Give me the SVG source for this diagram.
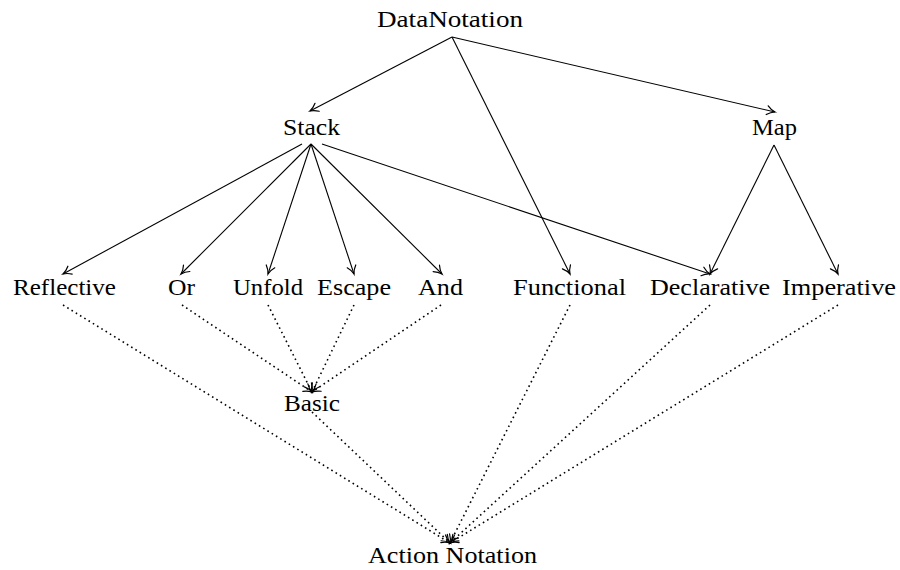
<svg xmlns="http://www.w3.org/2000/svg" width="900" height="570" viewBox="0 0 900 570">
<style>
text{font-family:"Liberation Serif","Times New Roman",serif;font-size:24px;fill:#000;text-anchor:middle}
.e{stroke:#000;stroke-width:1.1;fill:none;marker-end:url(#to)}
.d{stroke:#000;stroke-width:1.6;fill:none;stroke-dasharray:1.6 3.4;marker-end:url(#to)}
</style>
<defs>
<marker id="to" markerUnits="userSpaceOnUse" viewBox="-9 -6 11 12" refX="0" refY="0" markerWidth="11" markerHeight="12" orient="auto" overflow="visible">
<path d="M-8,-4.5 C-5,-1.8 -1.5,-0.4 0,0 C-1.5,0.4 -5,1.8 -8,4.5" fill="none" stroke="#000" stroke-width="1.2" stroke-dasharray="none" stroke-linecap="round"/>
</marker>
</defs>
<rect width="900" height="570" fill="#fff"/>
<g id="connectors">
<line class="e" x1="452" y1="37" x2="310" y2="111"/>
<line class="e" x1="452" y1="37" x2="570" y2="274"/>
<line class="e" x1="452" y1="37" x2="775" y2="112"/>
<line class="e" x1="302" y1="144" x2="63" y2="274"/>
<line class="e" x1="311" y1="144" x2="181" y2="274"/>
<line class="e" x1="311" y1="144" x2="268" y2="274"/>
<line class="e" x1="311" y1="144" x2="354" y2="274"/>
<line class="e" x1="311" y1="144" x2="442" y2="274"/>
<line class="e" x1="322" y1="144" x2="710" y2="274"/>
<line class="e" x1="774" y1="145" x2="710" y2="274"/>
<line class="e" x1="774" y1="145" x2="838" y2="274"/>
<line class="d" x1="182" y1="305" x2="312" y2="392"/>
<line class="d" x1="268" y1="305" x2="312" y2="392"/>
<line class="d" x1="354" y1="305" x2="312" y2="392"/>
<line class="d" x1="441" y1="305" x2="312" y2="392"/>
<line class="d" x1="63" y1="305" x2="450" y2="543"/>
<line class="d" x1="312" y1="412" x2="450" y2="543"/>
<line class="d" x1="570" y1="305" x2="450" y2="543"/>
<line class="d" x1="710" y1="305" x2="450" y2="543"/>
<line class="d" x1="838" y1="305" x2="450" y2="543"/>
</g>
<g id="DataNotation"><text x="450" y="27" textLength="146" lengthAdjust="spacingAndGlyphs">DataNotation</text></g>
<g id="Stack"><text x="311.5" y="135" textLength="57" lengthAdjust="spacingAndGlyphs">Stack</text></g>
<g id="Map"><text x="774.5" y="135" textLength="45" lengthAdjust="spacingAndGlyphs">Map</text></g>
<g id="Reflective"><text x="64.5" y="295" textLength="103" lengthAdjust="spacingAndGlyphs">Reflective</text></g>
<g id="Or"><text x="181.5" y="295" textLength="27" lengthAdjust="spacingAndGlyphs">Or</text></g>
<g id="Unfold"><text x="268" y="295" textLength="70" lengthAdjust="spacingAndGlyphs">Unfold</text></g>
<g id="Escape"><text x="354" y="295" textLength="74" lengthAdjust="spacingAndGlyphs">Escape</text></g>
<g id="And"><text x="440.5" y="295" textLength="45" lengthAdjust="spacingAndGlyphs">And</text></g>
<g id="Functional"><text x="569.5" y="295" textLength="113" lengthAdjust="spacingAndGlyphs">Functional</text></g>
<g id="Declarative"><text x="710" y="295" textLength="120" lengthAdjust="spacingAndGlyphs">Declarative</text></g>
<g id="Imperative"><text x="839" y="295" textLength="114" lengthAdjust="spacingAndGlyphs">Imperative</text></g>
<g id="Basic"><text x="312" y="411" textLength="56" lengthAdjust="spacingAndGlyphs">Basic</text></g>
<g id="ActionNotation"><text x="452.5" y="563" textLength="169" lengthAdjust="spacingAndGlyphs">Action Notation</text></g>
</svg>
